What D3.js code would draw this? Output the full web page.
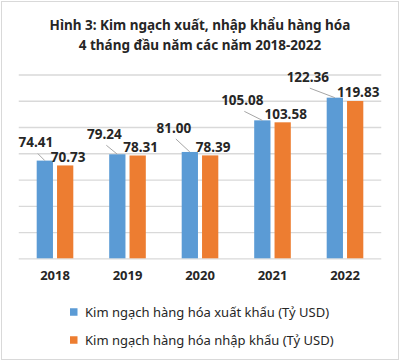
<!DOCTYPE html>
<html>
<head>
<meta charset="utf-8">
<script src="https://cdn.jsdelivr.net/npm/d3@7"></script>
<style>
  html, body { margin: 0; padding: 0; background: #fff; }
  svg { display: block; }
  text { font-family: "Noto Sans", "Open Sans", sans-serif; }
</style>
</head>
<body>
<svg id="chart" width="400" height="362"></svg>
<script>
// ---- Data ----
const years = ["2018", "2019", "2020", "2021", "2022"];
const seriesNames = [
  "Kim ngạch hàng hóa xuất khẩu (Tỷ USD)",
  "Kim ngạch hàng hóa nhập khẩu (Tỷ USD)"
];
const exportValues = [74.41, 79.24, 81.00, 105.08, 122.36];
const importValues = [70.73, 78.31, 78.39, 103.58, 119.83];
const yTicks = [0, 20, 40, 60, 80, 100, 120, 140];
const titleLines = [
  "Hình 3: Kim ngạch xuất, nhập khẩu hàng hóa",
  "4 tháng đầu năm các năm 2018-2022"
];

// ---- Layout / style ----
const colors = ["#5b9bd5", "#ed7d31"];
// offsets of the (moved) export labels relative to bar top-center
const exportLabelOffsets = [[-9, -18], [-13, -20], [-16, -24], [-20, -20], [-27, -20.5]];

const svg = d3.select("#chart");
const W = 400, H = 362;

svg.append("rect").attr("x", 0).attr("y", 0).attr("width", W).attr("height", H).attr("fill", "#fff");
svg.append("rect").attr("x", 1.5).attr("y", 1.5).attr("width", 397).attr("height", 358)
  .attr("fill", "#fff").attr("stroke", "#d9d9d9").attr("stroke-width", 1);

const plot = { left: 18.75, right: 381.25, top: 74.5, bottom: 258.3 };

const x0 = d3.scaleBand().domain(years).range([plot.left, plot.right]).paddingInner(0.495).paddingOuter(0.2475);
const x1 = d3.scaleBand().domain([0, 1]).range([0, x0.bandwidth()]).paddingInner(0.2).paddingOuter(0);
const y = d3.scaleLinear().domain([0, 140]).range([plot.bottom, plot.top]);

// gridlines
const yAxis = d3.axisLeft(y).tickValues(yTicks).tickSize(-(plot.right - plot.left)).tickFormat("");
const gAxis = svg.append("g").attr("transform", `translate(${plot.left},0)`).call(yAxis);
gAxis.select(".domain").remove();
gAxis.selectAll(".tick line").attr("stroke", "#d9d9d9").attr("stroke-width", 1.3);

// x axis labels
const xAxis = d3.axisBottom(x0).tickSize(0).tickPadding(12);
const gX = svg.append("g").attr("transform", `translate(0,${plot.bottom})`).call(xAxis);
gX.select(".domain").remove();
gX.selectAll("text").attr("font-size", 13).attr("font-weight", "bold").attr("fill", "#262626")
  .attr("font-family", "Noto Sans");

// bars
const seriesValues = [exportValues, importValues];
const groups = svg.append("g").selectAll("g").data(years).join("g")
  .attr("transform", d => `translate(${x0(d)},0)`);

groups.selectAll("rect").data((d, i) => seriesValues.map((vals, s) => ({ s, v: vals[i] }))).join("rect")
  .attr("x", d => x1(d.s))
  .attr("y", d => y(d.v))
  .attr("width", x1.bandwidth())
  .attr("height", d => y(0) - y(d.v))
  .attr("fill", d => colors[d.s]);

// labels
const labelG = svg.append("g");
years.forEach((yr, i) => {
  // export label with leader line
  const bx = x0(yr) + x1(0) + x1.bandwidth() / 2;
  const by = y(exportValues[i]);
  const [dx, dy] = exportLabelOffsets[i];
  const lx = bx + dx, ly = by + dy;
  labelG.append("line")
    .attr("x1", lx + 2).attr("y1", ly + 11)
    .attr("x2", bx).attr("y2", by)
    .attr("stroke", "#a6a6a6").attr("stroke-width", 1);
  labelG.append("text")
    .attr("x", lx).attr("y", ly).attr("dy", "0.36em")
    .attr("text-anchor", "middle").attr("font-size", 13.5).attr("font-weight", "bold").attr("fill", "#262626")
    .text(exportValues[i].toFixed(2));
  // import label
  const ox = x0(yr) + x1(1) + x1.bandwidth() / 2;
  const oy = y(importValues[i]);
  labelG.append("text")
    .attr("x", ox + 3).attr("y", oy - 8.5).attr("dy", "0.36em")
    .attr("text-anchor", "middle").attr("font-size", 13.5).attr("font-weight", "bold").attr("fill", "#262626")
    .text(importValues[i].toFixed(2));
});

// title
svg.append("g").selectAll("text").data(titleLines).join("text")
  .attr("x", 200).attr("y", (d, i) => 25 + i * 20.5).attr("dy", "0.36em")
  .attr("text-anchor", "middle").attr("font-size", 13.5).attr("font-weight", "bold").attr("fill", "#262626")
  .text(d => d);

// legend
const leg = svg.append("g").selectAll("g").data(seriesNames).join("g")
  .attr("transform", (d, i) => `translate(70,${312 + i * 28})`);
leg.append("rect").attr("x", 0).attr("y", -3.75).attr("width", 7.5).attr("height", 7.5)
  .attr("fill", (d, i) => colors[i]);
leg.append("text").attr("x", 15).attr("y", 0).attr("dy", "0.36em")
  .attr("font-size", 13).attr("fill", "#262626").text(d => d);
</script>
</body>
</html>
